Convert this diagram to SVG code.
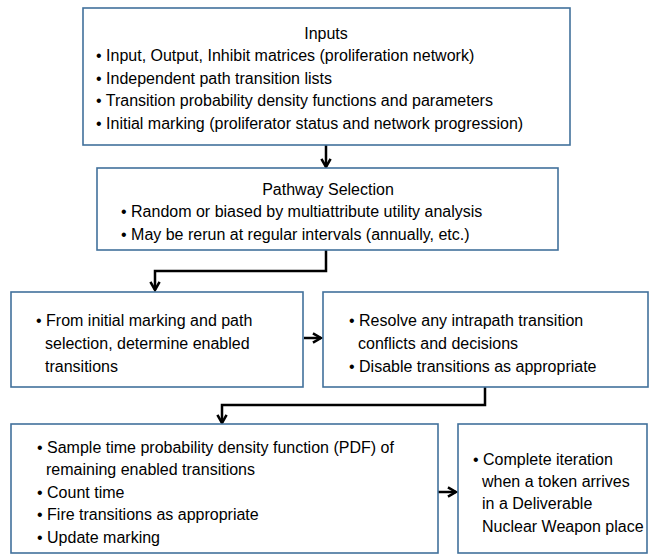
<svg xmlns="http://www.w3.org/2000/svg" width="657" height="555" viewBox="0 0 657 555">
<style>
.box{fill:#fff;stroke:#41719C;stroke-width:1.6}
text{font-family:"Liberation Sans",Arial,sans-serif;font-size:16px;fill:#000}
.c{text-anchor:middle}
.conn{fill:none;stroke:#000;stroke-width:2.5}
</style>
<defs>
<marker id="ah" viewBox="0 0 10 10" refX="8.5" refY="5" markerWidth="4.6" markerHeight="4.6" orient="auto" markerUnits="strokeWidth">
<path d="M1.5,1 L8.5,5 L1.5,9" fill="none" stroke="#000" stroke-width="2.2"/>
</marker>
</defs>
<rect width="657" height="555" fill="#fff"/>
<g id="connectors">
<path class="conn" d="M326,145 V167" marker-end="url(#ah)"/>
<path class="conn" d="M326,250 V271 H155 V290" marker-end="url(#ah)"/>
<path class="conn" d="M304,338 H321" marker-end="url(#ah)"/>
<path class="conn" d="M485,387 V405 H222 V423" marker-end="url(#ah)"/>
<path class="conn" d="M438,492 H456" marker-end="url(#ah)"/>
</g>
<g id="inputs">
<rect class="box" x="83" y="8" width="487" height="137"/>
<text class="c" x="326" y="39">Inputs</text>
<text x="96" y="61">• Input, Output, Inhibit matrices (proliferation network)</text>
<text x="96" y="84">• Independent path transition lists</text>
<text x="96" y="106">• Transition probability density functions and parameters</text>
<text x="96" y="129">• Initial marking (proliferator status and network progression)</text>
</g>
<g id="pathway">
<rect class="box" x="97" y="168" width="461" height="82"/>
<text class="c" x="328" y="195">Pathway Selection</text>
<text x="121" y="217">• Random or biased by multiattribute utility analysis</text>
<text x="121" y="240">• May be rerun at regular intervals (annually, etc.)</text>
</g>
<g id="enabled">
<rect class="box" x="11" y="292" width="292" height="95"/>
<text x="36" y="326">• From initial marking and path</text>
<text x="45" y="349">selection, determine enabled</text>
<text x="45" y="372">transitions</text>
</g>
<g id="resolve">
<rect class="box" x="323" y="292" width="325" height="95"/>
<text x="349" y="326">• Resolve any intrapath transition</text>
<text x="358" y="349">conflicts and decisions</text>
<text x="349" y="372">• Disable transitions as appropriate</text>
</g>
<g id="sample">
<rect class="box" x="11" y="424" width="427" height="129"/>
<text x="37" y="453">• Sample time probability density function (PDF) of</text>
<text x="46" y="475">remaining enabled transitions</text>
<text x="37" y="498">• Count time</text>
<text x="37" y="520">• Fire transitions as appropriate</text>
<text x="37" y="543">• Update marking</text>
</g>
<g id="complete">
<rect class="box" x="458" y="424" width="189" height="129"/>
<text x="473" y="465">• Complete iteration</text>
<text x="482" y="487">when a token arrives</text>
<text x="482" y="509">in a Deliverable</text>
<text x="482" y="532">Nuclear Weapon place</text>
</g>
</svg>
